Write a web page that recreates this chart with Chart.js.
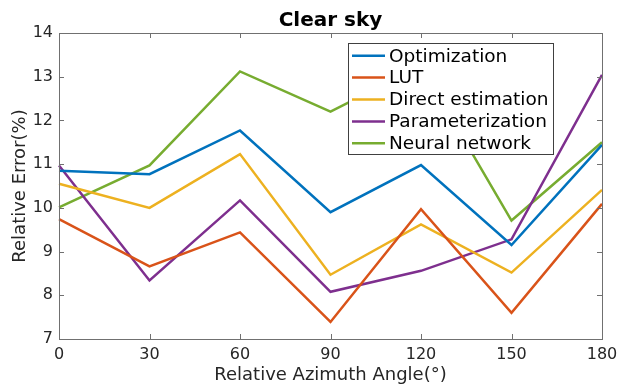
<!DOCTYPE html>
<html>
<head>
<meta charset="utf-8">
<script src="https://cdn.jsdelivr.net/npm/chart.js@4"></script>
<style>
  body { margin: 0; background: #fff; }
  #wrap { width: 617px; height: 384px; }
</style>
</head>
<body>
<div id="wrap"><canvas id="chart" width="617" height="384"></canvas></div>
<script>
// Relative error (%) per azimuth angle, clear sky case
const angles = [0, 30, 60, 90, 120, 150, 180];
const optimization = [10.85, 10.77, 11.77, 9.90, 10.98, 9.15, 11.44];
const lut = [9.74, 8.66, 9.44, 7.39, 9.97, 7.60, 10.09];
const directEstimation = [10.55, 10.00, 11.23, 8.47, 9.62, 8.52, 10.41];
const parameterization = [10.97, 8.34, 10.17, 8.08, 8.56, 9.28, 13.04];
const neuralNetwork = [10.01, 10.97, 13.12, 12.20, 13.25, 9.71, 11.50];
const yTicks = [7, 8, 9, 10, 11, 12, 13, 14];

const FONT = 'DejaVu Sans';
const AXIS_COLOR = '#707070';
const TEXT_COLOR = '#262626';

function series(label, values, color) {
    return {
        label: label,
        data: values,
        borderColor: color,
        backgroundColor: color,
        borderWidth: 2.5,
        pointRadius: 0,
        tension: 0,
        clip: false
    };
}

// Box around the axes plus inward tick marks on all four sides
const axesBox = {
    id: 'axesBox',
    afterDraw(chart) {
        const {ctx, chartArea: a, scales} = chart;
        ctx.save();
        ctx.strokeStyle = AXIS_COLOR;
        ctx.lineWidth = 1;
        ctx.strokeRect(a.left + 0.5, a.top + 0.5, a.right - a.left, a.bottom - a.top);
        const len = 5;
        ctx.beginPath();
        scales.x.ticks.forEach((t, i) => {
            const px = Math.round(scales.x.getPixelForTick(i)) + 0.5;
            ctx.moveTo(px, a.bottom); ctx.lineTo(px, a.bottom - len);
            ctx.moveTo(px, a.top); ctx.lineTo(px, a.top + len);
        });
        scales.y.ticks.forEach(t => {
            const py = Math.round(scales.y.getPixelForValue(t.value)) + 0.5;
            ctx.moveTo(a.left, py); ctx.lineTo(a.left + len, py);
            ctx.moveTo(a.right, py); ctx.lineTo(a.right - len, py);
        });
        ctx.stroke();
        ctx.restore();
    }
};

// Legend drawn inside the plot, upper right
const insideLegend = {
    id: 'insideLegend',
    afterDatasetsDraw(chart) {
        const ctx = chart.ctx;
        const x0 = 348, y0 = 43, w = 205, h = 111;
        const rowH = 21.9;
        ctx.save();
        ctx.fillStyle = '#fff';
        ctx.fillRect(x0, y0, w, h);
        ctx.strokeStyle = '#404040';
        ctx.lineWidth = 1;
        ctx.strokeRect(x0 + 0.5, y0 + 0.5, w, h);
        ctx.font = '18.5px "' + FONT + '"';
        ctx.textBaseline = 'middle';
        chart.data.datasets.forEach((ds, i) => {
            const y = y0 + 12.7 + i * rowH;
            ctx.strokeStyle = ds.borderColor;
            ctx.lineWidth = 2.5;
            ctx.beginPath();
            ctx.moveTo(x0 + 4, y);
            ctx.lineTo(x0 + 37, y);
            ctx.stroke();
            ctx.fillStyle = '#000';
            ctx.fillText(ds.label, x0 + 41, y + 1);
        });
        ctx.restore();
    }
};

new Chart(document.getElementById('chart'), {
    type: 'line',
    data: {
        labels: angles,
        datasets: [
            series('Optimization', optimization, '#0072BD'),
            series('LUT', lut, '#D95319'),
            series('Direct estimation', directEstimation, '#EDB120'),
            series('Parameterization', parameterization, '#7E2F8E'),
            series('Neural network', neuralNetwork, '#77AC30')
        ]
    },
    options: {
        responsive: false,
        animation: false,
        layout: { padding: { left: 0, right: 15, top: 0, bottom: 0 } },
        plugins: {
            legend: { display: false },
            tooltip: { enabled: false },
            title: {
                display: true,
                text: 'Clear sky',
                fullSize: false,
                color: '#000',
                font: { family: FONT, size: 20, weight: 'bold' },
                padding: { top: 9, bottom: 0 }
            }
        },
        scales: {
            x: {
                type: 'category',
                offset: false,
                grid: { display: false, drawTicks: false },
                border: { display: false },
                ticks: {
                    color: TEXT_COLOR,
                    font: { family: FONT, size: 16 },
                    padding: 6,
                    maxRotation: 0
                },
                title: {
                    display: true,
                    text: 'Relative Azimuth Angle(°)',
                    color: TEXT_COLOR,
                    font: { family: FONT, size: 18, lineHeight: 1 },
                    padding: { top: 0, bottom: 0 }
                },
                afterFit(scale) {
                    scale.height = 45;
                    scale.paddingLeft = 0;
                    scale.paddingRight = 0;
                }
            },
            y: {
                min: yTicks[0],
                max: yTicks[yTicks.length - 1],
                grid: { display: false, drawTicks: false },
                border: { display: false },
                ticks: {
                    stepSize: 1,
                    color: TEXT_COLOR,
                    font: { family: FONT, size: 16 },
                    padding: 6
                },
                title: {
                    display: true,
                    text: 'Relative Error(%)',
                    color: TEXT_COLOR,
                    font: { family: FONT, size: 18, lineHeight: 1 },
                    padding: { top: 11, bottom: 0 }
                },
                afterFit(scale) { scale.width = 59; }
            }
        }
    },
    plugins: [axesBox, insideLegend]
});
</script>
</body>
</html>
